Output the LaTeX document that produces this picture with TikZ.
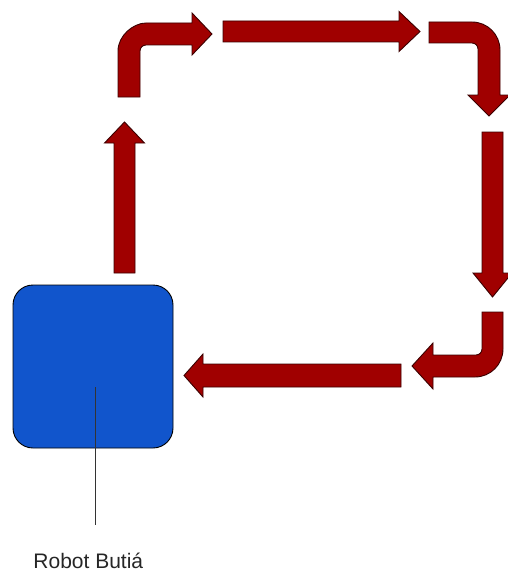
\documentclass[tikz,border=0pt]{standalone}
\usepackage{fontspec}
\setmainfont{Liberation Sans}
\definecolor{arrowred}{HTML}{A00000}
\definecolor{arrowedge}{HTML}{3A0000}
\definecolor{robotblue}{HTML}{1155CC}
\begin{document}
\begin{tikzpicture}[x=1pt,y=-1pt,
  blockarrow/.style={fill=arrowred,draw=arrowedge,line width=0.9pt,line join=miter},
  robotbox/.style={draw=black,fill=robotblue,line width=0.9pt,rounded corners=20pt,minimum width=160pt,minimum height=163pt,inner sep=0pt},
  labeltext/.style={font=\fontsize{21}{24}\selectfont,text=black!85,inner sep=0pt,anchor=base}]
\useasboundingbox (0,0) rectangle (508,578);
% robot
\node[robotbox] (robot) at (93,366.5) {};
\coordinate (pin) at (95,387);
\node[labeltext] (label) at (88.3,568) {Robot Butiá};
\coordinate (pinend) at (95,525);
\draw[line width=0.9pt,black!80] (pin) -- (pinend);
% up arrow
\draw[blockarrow] (114,273) -- (114,143) -- (104.5,143) -- (124.5,122) -- (144.5,143) -- (135,143) -- (135,273) -- cycle;
% top-left bent arrow
\draw[blockarrow] (118,97) -- (118,51) .. controls (118,35.5) and (133.5,23) .. (146,23) -- (192,23) -- (192,13) -- (212,34) -- (192,55) -- (192,45) -- (146,45) .. controls (142.7,45) and (140,47.7) .. (140,51) -- (140,97) -- cycle;
% top straight arrow
\draw[blockarrow] (223,21) -- (399,21) -- (399,11.5) -- (420,31.5) -- (399,51.5) -- (399,42) -- (223,42) -- cycle;
% top-right bent arrow
\draw[blockarrow] (429,22) -- (472,22) .. controls (487.5,22) and (500,34.5) .. (500,50) -- (500,95) -- (510,95) -- (489,116) -- (468,95) -- (478,95) -- (478,49) .. controls (478,45.7) and (475.3,43) .. (472,43) -- (429,43) -- cycle;
% right down arrow
\draw[blockarrow] (482,132) -- (503,132) -- (503,273) -- (512,273) -- (492.5,297) -- (473,273) -- (482,273) -- cycle;
% bottom-right bent arrow
\draw[blockarrow] (482,312) -- (503,312) -- (503,349) .. controls (503,364.5) and (490.5,377) .. (475,377) -- (433,377) -- (433,389) -- (412,366) -- (433,343) -- (433,355) -- (476,355) .. controls (479.3,355) and (482,352.3) .. (482,349) -- cycle;
% bottom left arrow
\draw[blockarrow] (401,364) -- (203,364) -- (203,354) -- (184,375.5) -- (203,397) -- (203,387) -- (401,387) -- cycle;
\end{tikzpicture}
\end{document}
